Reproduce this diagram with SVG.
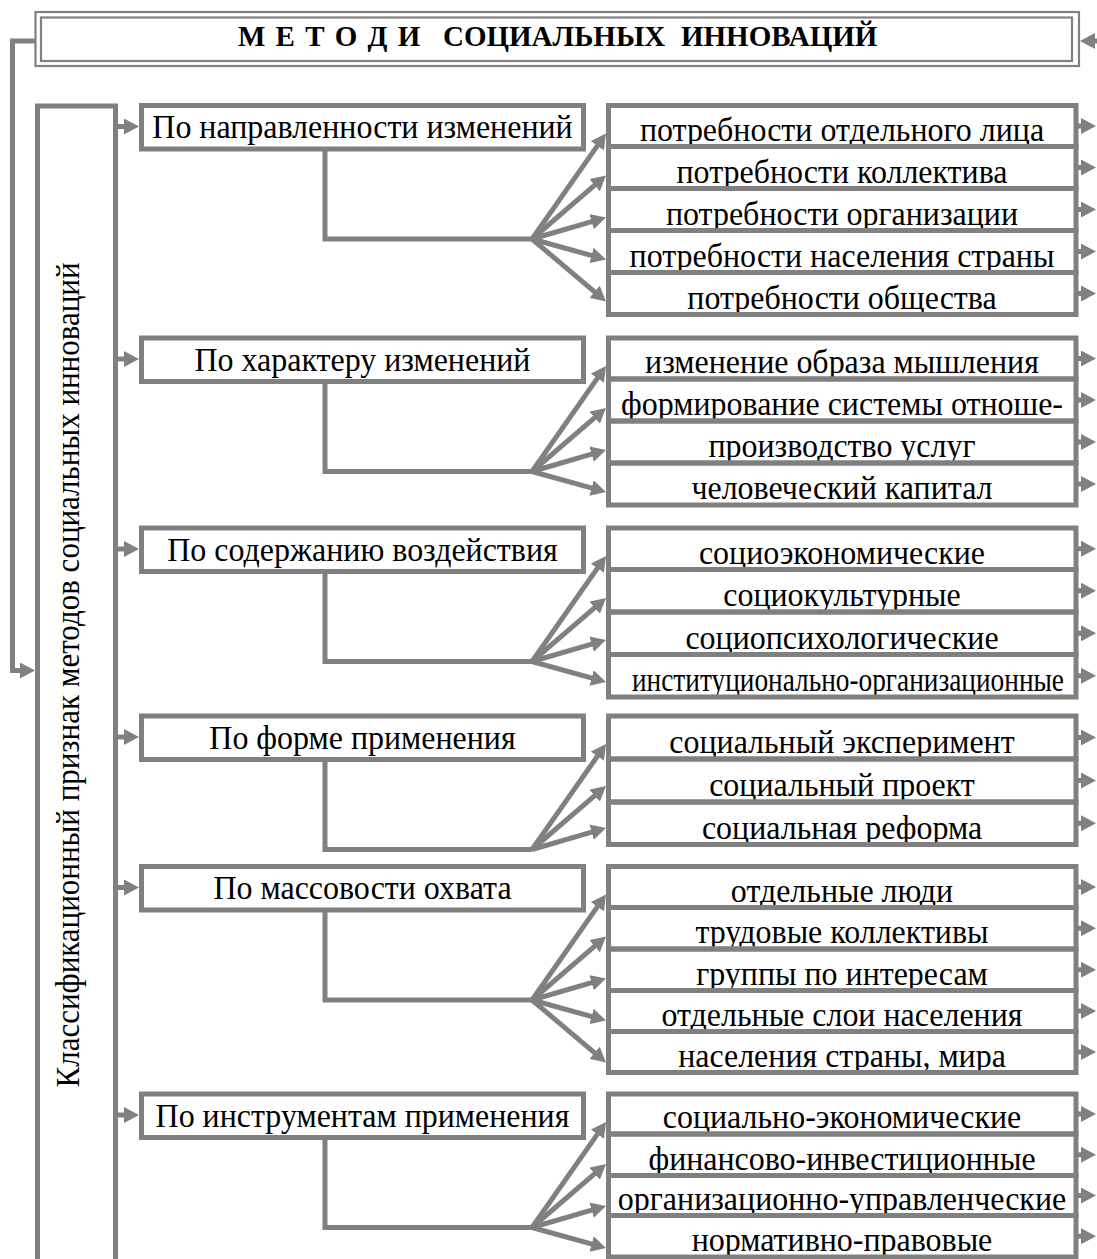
<svg xmlns="http://www.w3.org/2000/svg" width="1097" height="1259" viewBox="0 0 1097 1259">
<style>
.box{fill:none;stroke:#808080;stroke-width:5}
.thin{fill:none;stroke:#808080;stroke-width:2.2}
.ln{fill:none;stroke:#808080;stroke-width:5;stroke-linejoin:miter}
.t{font-family:"Liberation Serif","Times New Roman",serif;font-size:34px;fill:#000;text-anchor:middle;transform-box:fill-box;transform-origin:center;transform:scaleX(0.94)}
.tc{font-family:"Liberation Serif","Times New Roman",serif;font-size:34px;fill:#000;text-anchor:middle}
.ttl{font-family:"Liberation Serif","Times New Roman",serif;font-size:29px;font-weight:bold;fill:#000}
</style>
<defs>
<marker id="ah" viewBox="0 0 15 16" refX="9" refY="8" markerWidth="15" markerHeight="16" markerUnits="userSpaceOnUse" orient="auto"><path d="M0,0 L15,8 L0,16 z" fill="#808080"/></marker>
</defs>
<rect x="0" y="0" width="1097" height="1259" fill="#fff"/>

<g id="title">
<text class="ttl" y="46"><tspan x="238" style="word-spacing:3px">М Е Т О Д И</tspan><tspan x="443">СОЦИАЛЬНЫХ</tspan><tspan x="681">ИННОВАЦИЙ</tspan></text>
<rect class="thin" x="35.5" y="12" width="1043.5" height="54"/>
<rect class="thin" x="41" y="17.5" width="1031" height="43.5"/>
</g>

<g id="classifier">
<text class="tc" style="font-size:33px" x="0" y="0" transform="translate(79,675) rotate(-90) scale(0.94,1)">Классификационный признак методов социальных инноваций</text>
<rect class="box" x="37.5" y="106" width="78" height="1200"/>
</g>

<!-- Section 1 -->
<g id="s1-cat"><text class="t" x="362.5" y="138.5">По направленности изменений</text><rect class="box" x="141.5" y="105.5" width="442" height="43.5"/></g>
<g id="s1-r1"><text class="t" x="842" y="141">потребности отдельного лица</text><rect class="box" x="608.5" y="105.5" width="467.5" height="41"/></g>
<g id="s1-r2"><text class="t" x="842" y="183">потребности коллектива</text><rect class="box" x="608.5" y="146.5" width="467.5" height="42"/></g>
<g id="s1-r3"><text class="t" x="842" y="225">потребности организации</text><rect class="box" x="608.5" y="188.5" width="467.5" height="42"/></g>
<g id="s1-r4"><text class="t" x="842" y="267">потребности населения страны</text><rect class="box" x="608.5" y="230.5" width="467.5" height="42"/></g>
<g id="s1-r5"><text class="t" x="842" y="309">потребности общества</text><rect class="box" x="608.5" y="272.5" width="467.5" height="42"/></g>

<!-- Section 2 -->
<g id="s2-cat"><text class="t" x="362.5" y="371">По характеру изменений</text><rect class="box" x="141.5" y="338" width="442" height="43.5"/></g>
<g id="s2-r1"><text class="t" x="842" y="373.5">изменение образа мышления</text><rect class="box" x="608.5" y="338" width="467.5" height="41"/></g>
<g id="s2-r2"><text class="t" x="842" y="415.5">формирование системы отноше-</text><rect class="box" x="608.5" y="379" width="467.5" height="42"/></g>
<g id="s2-r3"><text class="t" x="842" y="457.5">производство услуг</text><rect class="box" x="608.5" y="421" width="467.5" height="42"/></g>
<g id="s2-r4"><text class="t" x="842" y="499.5">человеческий капитал</text><rect class="box" x="608.5" y="463" width="467.5" height="42"/></g>

<!-- Section 3 -->
<g id="s3-cat"><text class="t" x="362.5" y="561">По содержанию воздействия</text><rect class="box" x="141.5" y="528" width="442" height="43.5"/></g>
<g id="s3-r1"><text class="t" x="842" y="564">социоэкономические</text><rect class="box" x="608.5" y="528" width="467.5" height="41.5"/></g>
<g id="s3-r2"><text class="t" x="842" y="606.5">социокультурные</text><rect class="box" x="608.5" y="569.5" width="467.5" height="42.5"/></g>
<g id="s3-r3"><text class="t" x="842" y="649">социопсихологические</text><rect class="box" x="608.5" y="612" width="467.5" height="42.5"/></g>
<g id="s3-r4"><text class="tc" x="848" y="690.5" textLength="432" lengthAdjust="spacingAndGlyphs">институционально-организационные</text><rect class="box" x="608.5" y="654.5" width="467.5" height="42.5"/></g>

<!-- Section 4 -->
<g id="s4-cat"><text class="t" x="362.5" y="749">По форме применения</text><rect class="box" x="141.5" y="716" width="442" height="43.5"/></g>
<g id="s4-r1"><text class="t" x="842" y="753.5">социальный эксперимент</text><rect class="box" x="608.5" y="716" width="467.5" height="43"/></g>
<g id="s4-r2"><text class="t" x="842" y="796.5">социальный проект</text><rect class="box" x="608.5" y="759" width="467.5" height="43"/></g>
<g id="s4-r3"><text class="t" x="842" y="839">социальная реформа</text><rect class="box" x="608.5" y="802" width="467.5" height="42.5"/></g>

<!-- Section 5 -->
<g id="s5-cat"><text class="t" x="362.5" y="899.5">По массовости охвата</text><rect class="box" x="141.5" y="866.5" width="442" height="43.5"/></g>
<g id="s5-r1"><text class="t" x="842" y="902">отдельные люди</text><rect class="box" x="608.5" y="866.5" width="467.5" height="41"/></g>
<g id="s5-r2"><text class="t" x="842" y="943.5">трудовые коллективы</text><rect class="box" x="608.5" y="907.5" width="467.5" height="41.5"/></g>
<g id="s5-r3"><text class="t" x="842" y="985">группы по интересам</text><rect class="box" x="608.5" y="949" width="467.5" height="41.5"/></g>
<g id="s5-r4"><text class="t" x="842" y="1026">отдельные слои населения</text><rect class="box" x="608.5" y="990.5" width="467.5" height="41"/></g>
<g id="s5-r5"><text class="t" x="842" y="1067">населения страны, мира</text><rect class="box" x="608.5" y="1031.5" width="467.5" height="41"/></g>

<!-- Section 6 -->
<g id="s6-cat"><text class="t" x="362.5" y="1127">По инструментам применения</text><rect class="box" x="141.5" y="1094" width="442" height="43.5"/></g>
<g id="s6-r1"><text class="t" x="842" y="1128.5">социально-экономические</text><rect class="box" x="608.5" y="1094" width="467.5" height="40"/></g>
<g id="s6-r2"><text class="t" x="842" y="1170">финансово-инвестиционные</text><rect class="box" x="608.5" y="1134" width="467.5" height="41.5"/></g>
<g id="s6-r3"><text class="t" x="842" y="1210">организационно-управленческие</text><rect class="box" x="608.5" y="1175.5" width="467.5" height="40"/></g>
<g id="s6-r4"><text class="t" x="842" y="1251.5">нормативно-правовые</text><rect class="box" x="608.5" y="1215.5" width="467.5" height="41.5"/></g>

<g id="connectors" class="ln">
<path class="ln" d="M35,41 H12.5 V670.5 H29" marker-end="url(#ah)"/>
<path class="ln" d="M1097,41 H1086" marker-end="url(#ah)"/>
<path class="ln" d="M118,126.5 H133" marker-end="url(#ah)"/>
<path class="ln" d="M118,359 H133" marker-end="url(#ah)"/>
<path class="ln" d="M118,549 H133" marker-end="url(#ah)"/>
<path class="ln" d="M118,737 H133" marker-end="url(#ah)"/>
<path class="ln" d="M118,887.5 H133" marker-end="url(#ah)"/>
<path class="ln" d="M118,1115 H133" marker-end="url(#ah)"/>
<g class="ln">
<path d="M1078,126 H1090" marker-end="url(#ah)"/>
<path d="M1078,167.5 H1090" marker-end="url(#ah)"/>
<path d="M1078,209.5 H1090" marker-end="url(#ah)"/>
<path d="M1078,251.5 H1090" marker-end="url(#ah)"/>
<path d="M1078,293.5 H1090" marker-end="url(#ah)"/>
<path d="M1078,358.5 H1090" marker-end="url(#ah)"/>
<path d="M1078,400 H1090" marker-end="url(#ah)"/>
<path d="M1078,442 H1090" marker-end="url(#ah)"/>
<path d="M1078,484 H1090" marker-end="url(#ah)"/>
<path d="M1078,548.75 H1090" marker-end="url(#ah)"/>
<path d="M1078,590.75 H1090" marker-end="url(#ah)"/>
<path d="M1078,633.25 H1090" marker-end="url(#ah)"/>
<path d="M1078,675.75 H1090" marker-end="url(#ah)"/>
<path d="M1078,737.5 H1090" marker-end="url(#ah)"/>
<path d="M1078,780.5 H1090" marker-end="url(#ah)"/>
<path d="M1078,823.25 H1090" marker-end="url(#ah)"/>
<path d="M1078,887 H1090" marker-end="url(#ah)"/>
<path d="M1078,928.25 H1090" marker-end="url(#ah)"/>
<path d="M1078,969.75 H1090" marker-end="url(#ah)"/>
<path d="M1078,1011 H1090" marker-end="url(#ah)"/>
<path d="M1078,1052 H1090" marker-end="url(#ah)"/>
<path d="M1078,1114 H1090" marker-end="url(#ah)"/>
<path d="M1078,1154.75 H1090" marker-end="url(#ah)"/>
<path d="M1078,1195.5 H1090" marker-end="url(#ah)"/>
<path d="M1078,1236.25 H1090" marker-end="url(#ah)"/>
</g>
<g class="ln" transform="translate(0,105.5)">
<path d="M325,43.5 V133.5 H532"/>
<path d="M532,133.5 L602.55,32.91" marker-end="url(#ah)"/>
<path d="M532,133.5 L601.45,73.91" marker-end="url(#ah)"/>
<path d="M532,133.5 L600.24,113.67" marker-end="url(#ah)"/>
<path d="M532,133.5 L600.22,152.4" marker-end="url(#ah)"/>
<path d="M532,133.5 L601.42,192.13" marker-end="url(#ah)"/>
</g>
<g class="ln" transform="translate(0,338)">
<path d="M325,43.5 V133.5 H532"/>
<path d="M532,133.5 L602.55,32.91" marker-end="url(#ah)"/>
<path d="M532,133.5 L601.45,73.91" marker-end="url(#ah)"/>
<path d="M532,133.5 L600.24,113.67" marker-end="url(#ah)"/>
<path d="M532,133.5 L600.22,152.4" marker-end="url(#ah)"/>
</g>
<g class="ln" transform="translate(0,528)">
<path d="M325,43.5 V133.5 H532"/>
<path d="M532,133.5 L602.55,32.91" marker-end="url(#ah)"/>
<path d="M532,133.5 L601.45,73.91" marker-end="url(#ah)"/>
<path d="M532,133.5 L600.24,113.67" marker-end="url(#ah)"/>
<path d="M532,133.5 L600.22,152.4" marker-end="url(#ah)"/>
</g>
<g class="ln" transform="translate(0,716)">
<path d="M325,43.5 V133.5 H532"/>
<path d="M532,133.5 L602.55,32.91" marker-end="url(#ah)"/>
<path d="M532,133.5 L601.45,73.91" marker-end="url(#ah)"/>
<path d="M532,133.5 L600.24,113.67" marker-end="url(#ah)"/>
</g>
<g class="ln" transform="translate(0,866.5)">
<path d="M325,43.5 V133.5 H532"/>
<path d="M532,133.5 L602.55,32.91" marker-end="url(#ah)"/>
<path d="M532,133.5 L601.45,73.91" marker-end="url(#ah)"/>
<path d="M532,133.5 L600.24,113.67" marker-end="url(#ah)"/>
<path d="M532,133.5 L600.22,152.4" marker-end="url(#ah)"/>
<path d="M532,133.5 L601.42,192.13" marker-end="url(#ah)"/>
</g>
<g class="ln" transform="translate(0,1094)">
<path d="M325,43.5 V133.5 H532"/>
<path d="M532,133.5 L602.55,32.91" marker-end="url(#ah)"/>
<path d="M532,133.5 L601.45,73.91" marker-end="url(#ah)"/>
<path d="M532,133.5 L600.24,113.67" marker-end="url(#ah)"/>
<path d="M532,133.5 L600.22,152.4" marker-end="url(#ah)"/>
</g>
</g>
</svg>
